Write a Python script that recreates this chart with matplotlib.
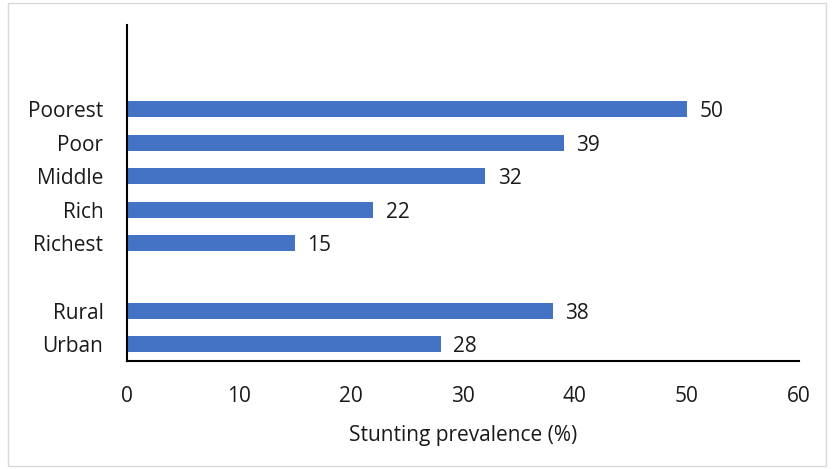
import matplotlib
matplotlib.use("Agg")
import matplotlib.pyplot as plt
from matplotlib.patches import Rectangle

# Stunting prevalence by wealth quintile and by residence
WEALTH = ["Poorest", "Poor", "Middle", "Rich", "Richest"]
WEALTH_VALUES = [50, 39, 32, 22, 15]
RESIDENCE = ["Rural", "Urban"]
RESIDENCE_VALUES = [38, 28]

BAR_COLOR = "#4472C4"
TEXT_COLOR = "#1a1a1a"
FS = 15
plt.rcParams["font.family"] = ["Open Sans", "DejaVu Sans"]

labels = WEALTH + RESIDENCE
values = WEALTH_VALUES + RESIDENCE_VALUES
# two empty slots above, one gap between the groups
y_pos = [2 + i for i in range(len(WEALTH))] + [8 + i for i in range(len(RESIDENCE))]

fig = plt.figure(figsize=(8.33, 4.69), dpi=100)
ax = fig.add_axes([0.1525, 0.2303, 0.8065, 0.7164])

ax.barh(y_pos, values, height=0.48, color=BAR_COLOR)
for y, v in zip(y_pos, values):
    ax.annotate(f"{v}", xy=(v, y), xytext=(9, 0), textcoords="offset points",
                va="center_baseline", ha="left", fontsize=FS, color=TEXT_COLOR)

ax.set_yticks(y_pos)
ax.set_yticklabels(labels)
ax.set_ylim(9.5, -0.5)
ax.set_xlim(0, 60)
ax.set_xticks(range(0, 61, 10))
ax.tick_params(axis="both", length=0, labelsize=FS, labelcolor=TEXT_COLOR)
ax.tick_params(axis="y", pad=17)
ax.tick_params(axis="x", pad=18)
ax.set_xlabel("Stunting prevalence (%)", fontsize=FS, color=TEXT_COLOR, labelpad=13)

for side in ("top", "right"):
    ax.spines[side].set_visible(False)
for side in ("left", "bottom"):
    ax.spines[side].set_linewidth(1.5)
    ax.spines[side].set_color("black")

# light chart-area border
fig.patches.append(Rectangle((8 / 833, 3 / 469), 818 / 833, 463 / 469,
                             transform=fig.transFigure, fill=False,
                             edgecolor="#d9d9d9", linewidth=1))

fig.savefig("out.png", dpi=100)
